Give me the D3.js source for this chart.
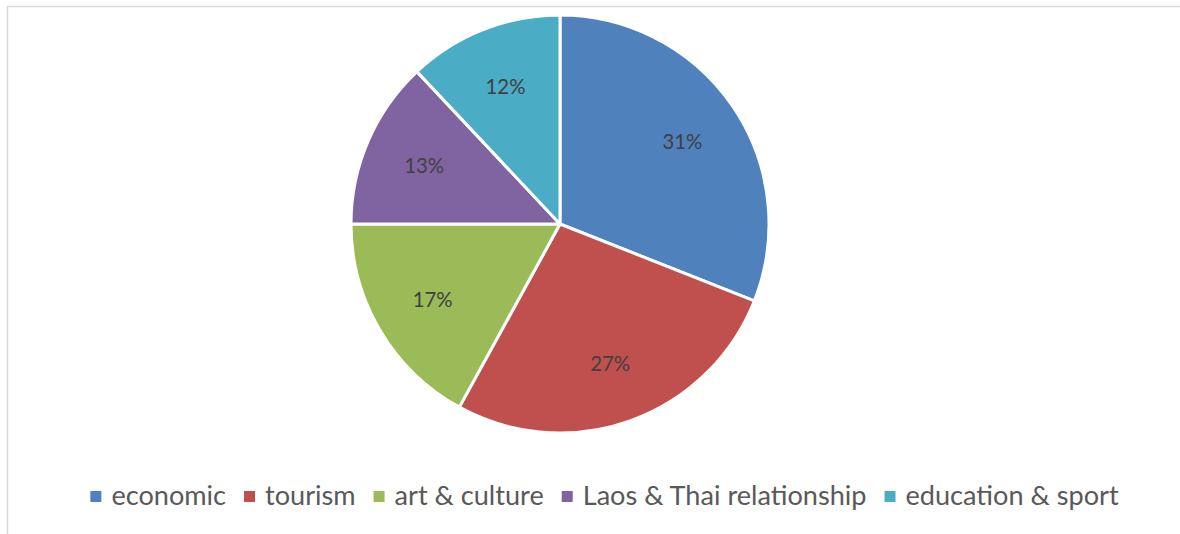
<!DOCTYPE html>
<html>
<head>
<meta charset="utf-8">
<script src="https://cdn.jsdelivr.net/npm/d3@7"></script>
<style>
  html, body { margin: 0; padding: 0; background: #fff; }
  svg { display: block; }
</style>
</head>
<body>
<svg id="chart" width="1180" height="534"></svg>
<script>
const categories = ["economic", "tourism", "art & culture", "Laos & Thai relationship", "education & sport"];
const values = [31, 27, 17, 13, 12];
const colors = ["#4f81bd", "#c0504d", "#9bbb59", "#8064a2", "#4bacc6"];

const W = 1180, H = 534;
const svg = d3.select("#chart");
const fontFam = "Lato, 'Open Sans', sans-serif";

// chart frame (only top and left edges visible in the crop)
svg.append("rect")
  .attr("x", 7.5).attr("y", 6.5)
  .attr("width", 1400).attr("height", 800)
  .attr("fill", "none").attr("stroke", "#d9d9d9").attr("stroke-width", 1.5);

const cx = 560, cy = 224, R = 209;
const data = categories.map((c, i) => ({ name: c, value: values[i], color: colors[i] }));
const pie = d3.pie().value(d => d.value).sort(null);
const arcs = pie(data);
const arc = d3.arc().innerRadius(0).outerRadius(R);
const labelArc = d3.arc().innerRadius(148).outerRadius(148);
const total = d3.sum(values);

const g = svg.append("g").attr("transform", `translate(${cx},${cy})`);
g.selectAll("path.slice").data(arcs).enter().append("path")
  .attr("class", "slice")
  .attr("d", arc)
  .attr("fill", d => d.data.color)
  .attr("stroke", "#fff")
  .attr("stroke-width", 3)
  .attr("stroke-linejoin", "round");

// labels
const lbls = g.selectAll("text.lbl").data(arcs).enter().append("text")
  .attr("class", "lbl")
  .attr("transform", d => `translate(${labelArc.centroid(d)})`)
  .attr("text-anchor", "middle")
  .attr("dominant-baseline", "central")
  .attr("font-family", fontFam)
  .attr("font-size", 20)
  .attr("fill", "#404040")
  .text(d => d3.format(".0%")(d.data.value / total));
// fit label font so "31%" is ~40px wide
const w0 = lbls.node().getComputedTextLength();
const lblSize = 20 * 40 / w0;
lbls.attr("font-size", lblSize);

// legend
const leg = svg.append("g");
const items = leg.selectAll("g.item").data(data).enter().append("g").attr("class", "item");
const sq = 11, gapSqText = 10, gapItem = 18;
items.append("rect")
  .attr("width", sq).attr("height", sq)
  .attr("fill", d => d.color);
const texts = items.append("text")
  .attr("font-family", fontFam)
  .attr("font-size", 26)
  .attr("fill", "#595959")
  .text(d => d.name);
// fit legend font so "Laos & Thai relationship" ~284px
const wl = texts.filter((d, i) => i === 3).node().getComputedTextLength();
const legSize = 26 * 284 / wl;
texts.attr("font-size", legSize);
let widths = texts.nodes().map(n => n.getComputedTextLength());
let totalW = d3.sum(widths) + data.length * (sq + gapSqText) + (data.length - 1) * gapItem;
let x = 604.5 - totalW / 2;
const baseY = 505;
items.each(function(d, i) {
  const it = d3.select(this);
  it.select("rect").attr("x", x).attr("y", 491);
  it.select("text").attr("x", x + sq + gapSqText).attr("y", baseY);
  x += sq + gapSqText + widths[i] + gapItem;
});
</script>
</body>
</html>
